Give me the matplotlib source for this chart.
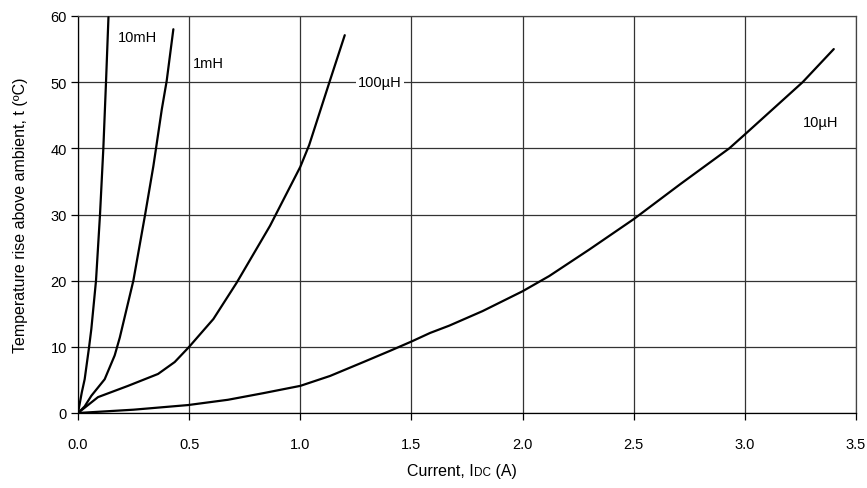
import matplotlib
matplotlib.use("Agg")
import matplotlib.pyplot as plt
from matplotlib import font_manager

# ---- data ----
x_10mH = [0, 0.017, 0.03, 0.05, 0.06, 0.081, 0.099, 0.114, 0.126, 0.137]
t_10mH = [0, 3.1, 5.1, 10, 12.7, 20, 30, 40, 50, 59.8]

x_1mH = [0, 0.03, 0.06, 0.12, 0.165, 0.188, 0.249, 0.302, 0.339, 0.351, 0.377, 0.399, 0.429]
t_1mH = [0, 1.0, 2.6, 5.1, 8.7, 11.4, 20, 30, 37.3, 40, 45.9, 50.2, 58.0]

x_100uH = [0, 0.09, 0.225, 0.36, 0.435, 0.5, 0.57, 0.609, 0.714, 0.864, 1.0, 1.04, 1.134, 1.20]
t_100uH = [0, 2.4, 4.1, 5.9, 7.7, 10, 12.7, 14.2, 19.7, 28.3, 37.2, 40.5, 50.3, 57.1]

x_10uH = [0, 0.25, 0.495, 0.675, 0.834, 1.0, 1.134, 1.284, 1.404, 1.5, 1.584, 1.67, 1.82,
          2.0, 2.12, 2.3, 2.5, 2.71, 2.93, 3.0, 3.26, 3.40]
t_10uH = [0, 0.5, 1.2, 2.0, 3.0, 4.1, 5.6, 7.7, 9.4, 10.8, 12.1, 13.2, 15.4,
          18.4, 20.7, 24.7, 29.3, 34.6, 40, 42.1, 50, 55.0]

series_labels = ["10mH", "1mH", "100µH", "10µH"]
label_pos = [(0.18, 56.8), (0.518, 52.9), (1.26, 50), (3.26, 44.0)]

x_ticks = [0.0, 0.5, 1.0, 1.5, 2.0, 2.5, 3.0, 3.5]
x_ticklabels = ["0.0", "0.5", "1.0", "1.5", "2.0", "2.5", "3.0", "3.5"]
y_ticks = [0, 10, 20, 30, 40, 50, 60]

# ---- fonts ----
names = {f.name for f in font_manager.fontManager.ttflist}
fam = "Liberation Sans Narrow" if "Liberation Sans Narrow" in names else "Liberation Sans"
plt.rcParams["font.family"] = [fam, "DejaVu Sans"]

fig = plt.figure(figsize=(8.67, 4.89), dpi=100)
ax = fig.add_axes([78 / 867, 1 - 414 / 489, (856 - 78) / 867, (414 - 17) / 489])

for xs, ts in [(x_10mH, t_10mH), (x_1mH, t_1mH), (x_100uH, t_100uH), (x_10uH, t_10uH)]:
    ax.plot(xs, ts, color="black", lw=1.6, solid_joinstyle="round",
            solid_capstyle="round", zorder=3)

ax.set_xlim(0, 3.5)
ax.set_ylim(0, 60)
ax.set_xticks(x_ticks)
ax.set_xticklabels(x_ticklabels)
ax.set_yticks(y_ticks)
ax.grid(True, color="#333333", lw=0.9)
ax.set_axisbelow(True)
for s in ax.spines.values():
    s.set_color("#444444")
    s.set_linewidth(0.9)
ax.spines["bottom"].set_color("black")
ax.spines["left"].set_color("black")
ax.tick_params(direction="out", length=5, width=0.9, labelsize=10.5, color="black")
ax.tick_params(axis="x", pad=12)
ax.tick_params(axis="y", pad=3)

for lab, (lx, ly) in zip(series_labels, label_pos):
    kw = {}
    if lab == "100µH":
        kw["bbox"] = dict(facecolor="white", edgecolor="none", pad=1.5)
    ax.text(lx, ly, lab, fontsize=10.5, ha="left", va="center", zorder=4, **kw)

ax.set_ylabel("Temperature rise above ambient, t (ºC)", fontsize=11.5, labelpad=16)

# x label: "Current, I" + small "DC" + " (A)"
fig.canvas.draw()
r = fig.canvas.get_renderer()
parts = [("Current, I", 11.5), ("DC", 8.5), (" (A)", 11.5)]
widths = []
texts = []
for s, fs in parts:
    t = fig.text(0, 0, s, fontsize=fs, ha="left", va="baseline")
    texts.append(t)
    widths.append(t.get_window_extent(r).width)
total = sum(widths)
cx = 462
x0 = cx - total / 2
yb = 489 - 476
for t, w in zip(texts, widths):
    t.set_position((x0 / 867, yb / 489))
    x0 += w

fig.savefig("out.png", dpi=100)
